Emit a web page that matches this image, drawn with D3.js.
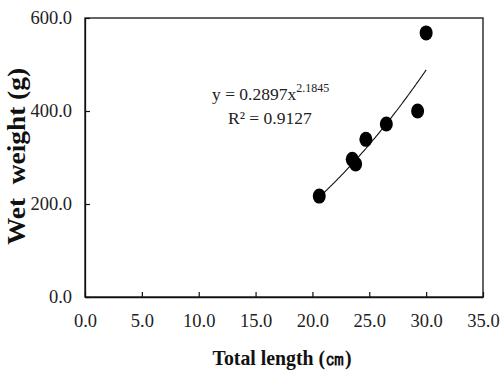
<!DOCTYPE html>
<html>
<head>
<meta charset="utf-8">
<script src="https://cdn.jsdelivr.net/npm/d3@7"></script>
<style>
  html, body { margin: 0; padding: 0; background: #fff; }
  svg { display: block; }
</style>
</head>
<body>
<svg id="chart" width="501" height="374"></svg>
<script>
// Total length (cm) vs wet weight (g)
const lengths = [20.6, 23.5, 23.8, 24.7, 26.5, 29.25, 30.0];
const weights = [217, 296, 286, 339, 372, 400, 568];
const xTicks = [0, 5, 10, 15, 20, 25, 30, 35];
const yTicks = [0, 200, 400, 600];
// Power-law fit y = a * x^b
const fitA = 0.2897;
const fitB = 2.1845;
const fitR2 = 0.9127;

const svg = d3.select("#chart");
const margin = { left: 85, top: 18, right: 18, bottom: 77 };
const W = 501, H = 374;
const plotW = W - margin.left - margin.right;
const plotH = H - margin.top - margin.bottom;

const x = d3.scaleLinear().domain([0, 35]).range([margin.left, margin.left + plotW]);
const y = d3.scaleLinear().domain([0, 600]).range([margin.top + plotH, margin.top]);

const serif = "'Liberation Serif', 'Times New Roman', serif";

// Frame
svg.append("rect")
  .attr("x", x(0)).attr("y", y(600))
  .attr("width", x(35) - x(0)).attr("height", y(0) - y(600))
  .attr("fill", "none").attr("stroke", "#111").attr("stroke-width", 1.3);

// X axis (ticks point inward)
const xAxis = svg.append("g")
  .attr("transform", `translate(0,${y(0)})`)
  .call(d3.axisBottom(x).tickValues(xTicks).tickSizeInner(-5).tickSizeOuter(0).tickPadding(17)
    .tickFormat(d3.format(".1f")));
xAxis.select(".domain").attr("stroke", "#111").attr("stroke-width", 1.3);
xAxis.selectAll(".tick line").attr("stroke", "#111").attr("stroke-width", 1.2);
xAxis.selectAll("text")
  .attr("font-family", serif).attr("font-size", 18.5).attr("fill", "#222");

// Y axis
const yAxis = svg.append("g")
  .attr("transform", `translate(${x(0)},0)`)
  .call(d3.axisLeft(y).tickValues(yTicks).tickSizeInner(-5).tickSizeOuter(0).tickPadding(13)
    .tickFormat(d3.format(".1f")));
yAxis.select(".domain").attr("stroke", "#111").attr("stroke-width", 1.3);
yAxis.selectAll(".tick line").attr("stroke", "#111").attr("stroke-width", 1.2);
yAxis.selectAll("text")
  .attr("font-family", serif).attr("font-size", 18.5).attr("fill", "#222");

// Trend line
const fitXs = d3.range(20.5, 30.0001, 0.1);
const line = d3.line().x(d => x(d)).y(d => y(fitA * Math.pow(d, fitB)));
svg.append("path")
  .datum(fitXs)
  .attr("d", line)
  .attr("fill", "none").attr("stroke", "#111").attr("stroke-width", 1.1);

// Data points
const pts = lengths.map((l, i) => ({ l, w: weights[i] }));
svg.selectAll("ellipse.pt")
  .data(pts)
  .enter().append("ellipse")
  .attr("class", "pt")
  .attr("cx", d => x(d.l)).attr("cy", d => y(d.w))
  .attr("rx", 6.5).attr("ry", 7.5)
  .attr("fill", "#000");

// Equation labels
const eq = svg.append("text")
  .attr("x", 212).attr("y", 100)
  .attr("font-family", serif).attr("font-size", 17.5).attr("fill", "#222");
eq.append("tspan").text(`y = ${fitA}x`);
eq.append("tspan").attr("dy", -8).attr("font-size", 12).text(`${fitB}`);

svg.append("text")
  .attr("x", 228).attr("y", 124)
  .attr("font-family", serif).attr("font-size", 17.5).attr("fill", "#222")
  .text(`R² = ${fitR2}`);

// Axis titles
svg.append("text")
  .attr("x", 282).attr("y", 365)
  .attr("text-anchor", "middle")
  .attr("font-family", serif).attr("font-size", 21).attr("font-weight", "bold").attr("fill", "#111")
  .attr("textLength", 139).attr("lengthAdjust", "spacingAndGlyphs")
  .text("Total length (㎝)");

svg.append("text")
  .attr("transform", `translate(25,156.5) rotate(-90)`)
  .attr("text-anchor", "middle")
  .attr("font-family", serif).attr("font-size", 25).attr("font-weight", "bold").attr("fill", "#111")
  .attr("textLength", 177).attr("lengthAdjust", "spacingAndGlyphs")
  .style("white-space", "pre")
  .text("Wet  weight (g)");
</script>
</body>
</html>
